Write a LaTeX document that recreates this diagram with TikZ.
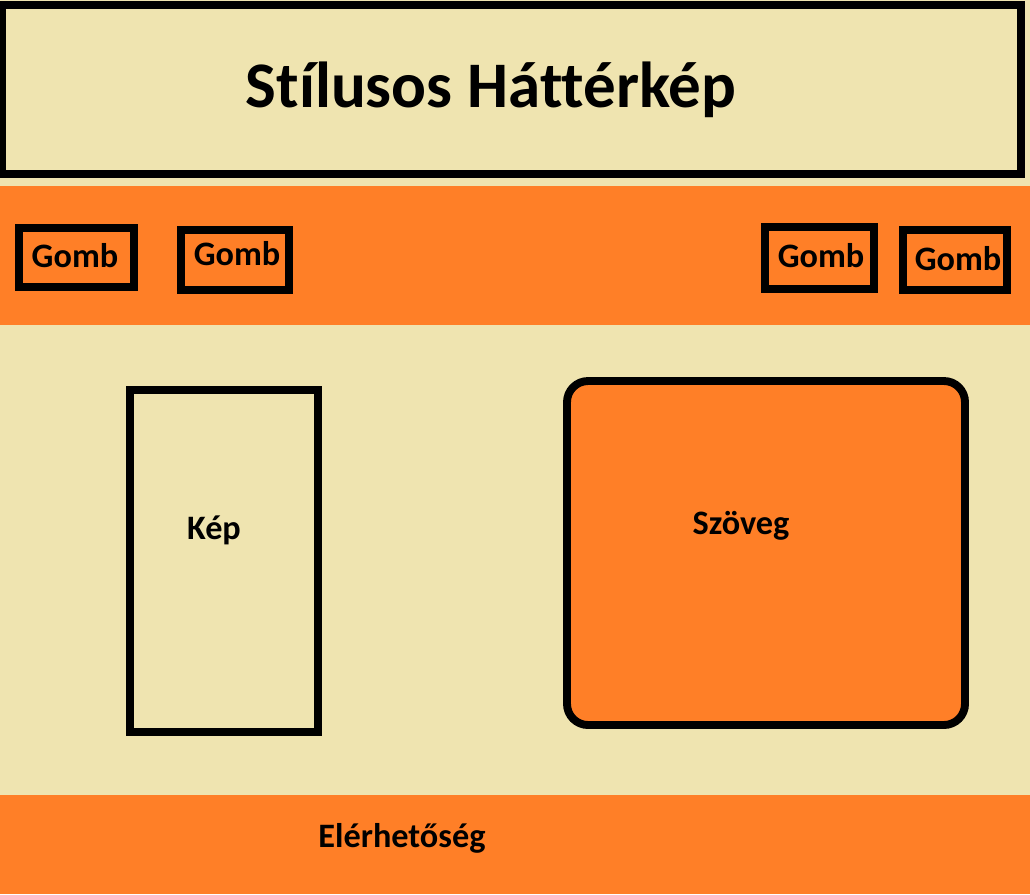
\documentclass[tikz,border=0pt]{standalone}
\usepackage{fontspec}
\setmainfont{Carlito}[Ligatures=NoCommon]
\usetikzlibrary{positioning}
\definecolor{cream}{RGB}{239,228,176}
\definecolor{paintorange}{RGB}{255,127,39}

\begin{document}
\begin{tikzpicture}[x=0.02cm,y=-0.02cm,
    frame/.style={draw=black,line width=4.5pt},
    label/.style={font=\bfseries\fontsize{19.5}{22}\selectfont,inner sep=0pt},
    title/.style={font=\bfseries\fontsize{37}{42}\selectfont,inner sep=0pt}]
  \useasboundingbox (0,0) rectangle (1030,894);
  % background and bands
  \fill[cream] (0,0) rectangle (1030,894);
  \fill[paintorange] (0,186) rectangle (1030,325);
  \fill[paintorange] (0,795) rectangle (1030,894);

  % header
  \draw[frame,fill=cream] (2.5,5) rectangle (1021,174);
  \node (T) [title] at (491,90) {Stílusos Háttérkép};

  % buttons
  \draw[frame] (19,228) rectangle (134,287);
  \draw[frame] (181,230) rectangle (289,290);
  \draw[frame] (765,227) rectangle (874,289);
  \draw[frame] (903,230) rectangle (1007,290);
  \node (G1) [label] at (75,256) {Gomb};
  \node (G2) [label] at (237,254) {Gomb};
  \node (G3) [label] at (821,256) {Gomb};
  \node (G4) [label] at (958,259) {Gomb};

  % content
  \draw[frame] (130,390) rectangle (318,732);
  \node (K) [label] at (214,530) {Kép};
  \draw[frame,fill=paintorange,rounded corners=12] (567,381) rectangle (965,725);
  \node (S) [label] at (741,526) {Szöveg};

  % footer
  \node (E) [label] at (402,838) {Elérhetőség};
\end{tikzpicture}
\end{document}
